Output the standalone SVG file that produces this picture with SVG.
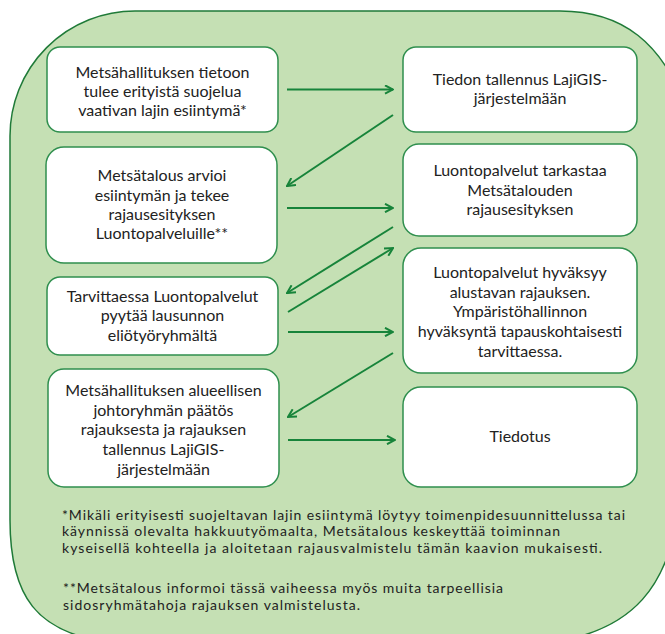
<svg xmlns="http://www.w3.org/2000/svg" width="665" height="634" viewBox="0 0 665 634">
<defs>
<style>
.bg{fill:#c5e0b4;stroke:#1f7a38;stroke-width:1.5}
.box{fill:#ffffff;stroke:#2f8f4e;stroke-width:1.5}
.t{font-family:Lato,"Noto Sans",sans-serif;font-size:16px;fill:#222;text-anchor:middle}
.f{font-family:Lato,"Noto Sans",sans-serif;font-size:14px;fill:#222}
.c{fill:none;stroke:#17843a;stroke-width:2}
</style>
<marker id="ah" viewBox="0 0 10 10" refX="9" refY="5" markerWidth="10" markerHeight="10" markerUnits="userSpaceOnUse" orient="auto">
<path d="M1,0.8 L9,5 L1,9.2" fill="none" stroke="#17843a" stroke-width="2"/>
</marker>
</defs>
<path class="bg" d="M10,136 A125,125 0 0 1 135,11 L560,11 C620,11 665,40 690,120 L680,500 C670,590 630,628 560,641 L100,641 C40,630 10,600 10,520 Z"/>
<g id="connectors">
<line class="c" x1="287" y1="89.5" x2="393" y2="89.5" marker-end="url(#ah)"/>
<line class="c" x1="393" y1="115" x2="287" y2="186" marker-end="url(#ah)"/>
<line class="c" x1="287" y1="208" x2="393" y2="208" marker-end="url(#ah)"/>
<line class="c" x1="393" y1="227" x2="287" y2="293" marker-end="url(#ah)"/>
<line class="c" x1="288" y1="312" x2="393" y2="248" marker-end="url(#ah)"/>
<line class="c" x1="288" y1="332" x2="393" y2="332" marker-end="url(#ah)"/>
<line class="c" x1="393" y1="353" x2="288" y2="417" marker-end="url(#ah)"/>
<line class="c" x1="288" y1="440" x2="395" y2="440" marker-end="url(#ah)"/>
</g>
<g id="n1">
<rect class="box" x="47" y="47" width="231" height="85" rx="13"/>
<text class="t"><tspan x="162.5" y="77.5">Metsähallituksen tietoon</tspan><tspan x="162.5" y="96.8">tulee erityistä suojelua</tspan><tspan x="162.5" y="116.1">vaativan lajin esiintymä*</tspan></text>
</g>
<g id="n2">
<rect class="box" x="46" y="147" width="231" height="116" rx="18"/>
<text class="t"><tspan x="162" y="181.3">Metsätalous arvioi</tspan><tspan x="162" y="200.6">esiintymän ja tekee</tspan><tspan x="162" y="219.9">rajausesityksen</tspan><tspan x="162" y="239.2">Luontopalveluille**</tspan></text>
</g>
<g id="n3">
<rect class="box" x="47" y="277" width="231" height="78" rx="13"/>
<text class="t"><tspan x="162.5" y="302">Tarvittaessa Luontopalvelut</tspan><tspan x="162.5" y="321.3">pyytää lausunnon</tspan><tspan x="162.5" y="340.6">eliötyöryhmältä</tspan></text>
</g>
<g id="n4">
<rect class="box" x="48" y="369" width="231" height="118" rx="16"/>
<text class="t"><tspan x="163.5" y="395.9">Metsähallituksen alueellisen</tspan><tspan x="163.5" y="415.6">johtoryhmän päätös</tspan><tspan x="163.5" y="435.3">rajauksesta ja rajauksen</tspan><tspan x="163.5" y="455">tallennus LajiGIS-</tspan><tspan x="163.5" y="474.7">järjestelmään</tspan></text>
</g>
<g id="r1">
<rect class="box" x="403" y="47" width="234" height="85" rx="13"/>
<text class="t"><tspan x="520" y="84.6">Tiedon tallennus LajiGIS-</tspan><tspan x="520" y="104.3">järjestelmään</tspan></text>
</g>
<g id="r2">
<rect class="box" x="403" y="144" width="234" height="92" rx="16"/>
<text class="t"><tspan x="520" y="176">Luontopalvelut tarkastaa</tspan><tspan x="520" y="195.5">Metsätalouden</tspan><tspan x="520" y="215">rajausesityksen</tspan></text>
</g>
<g id="r3">
<rect class="box" x="403" y="248" width="234" height="125" rx="18"/>
<text class="t"><tspan x="520" y="277.8">Luontopalvelut hyväksyy</tspan><tspan x="520" y="297.5">alustavan rajauksen.</tspan><tspan x="520" y="317.3">Ympäristöhallinnon</tspan><tspan x="520" y="337.1">hyväksyntä tapauskohtaisesti</tspan><tspan x="520" y="356.8">tarvittaessa.</tspan></text>
</g>
<g id="r4">
<rect class="box" x="403" y="387" width="234" height="100" rx="18"/>
<text class="t" x="520" y="442">Tiedotus</text>
</g>
<g id="notes">
<text class="f" x="62" y="519.5" textLength="563" lengthAdjust="spacing">*Mikäli erityisesti suojeltavan lajin esiintymä löytyy toimenpidesuunnittelussa tai</text>
<text class="f" x="62" y="536.4" textLength="498" lengthAdjust="spacing">käynnissä olevalta hakkuutyömaalta, Metsätalous keskeyttää toiminnan</text>
<text class="f" x="62" y="553.3" textLength="540" lengthAdjust="spacing">kyseisellä kohteella ja aloitetaan rajausvalmistelu tämän kaavion mukaisesti.</text>
<text class="f" x="63" y="592.7" textLength="440" lengthAdjust="spacing">**Metsätalous informoi tässä vaiheessa myös muita tarpeellisia</text>
<text class="f" x="63" y="609.5" textLength="297" lengthAdjust="spacing">sidosryhmätahoja rajauksen valmistelusta.</text>
</g>
</svg>
